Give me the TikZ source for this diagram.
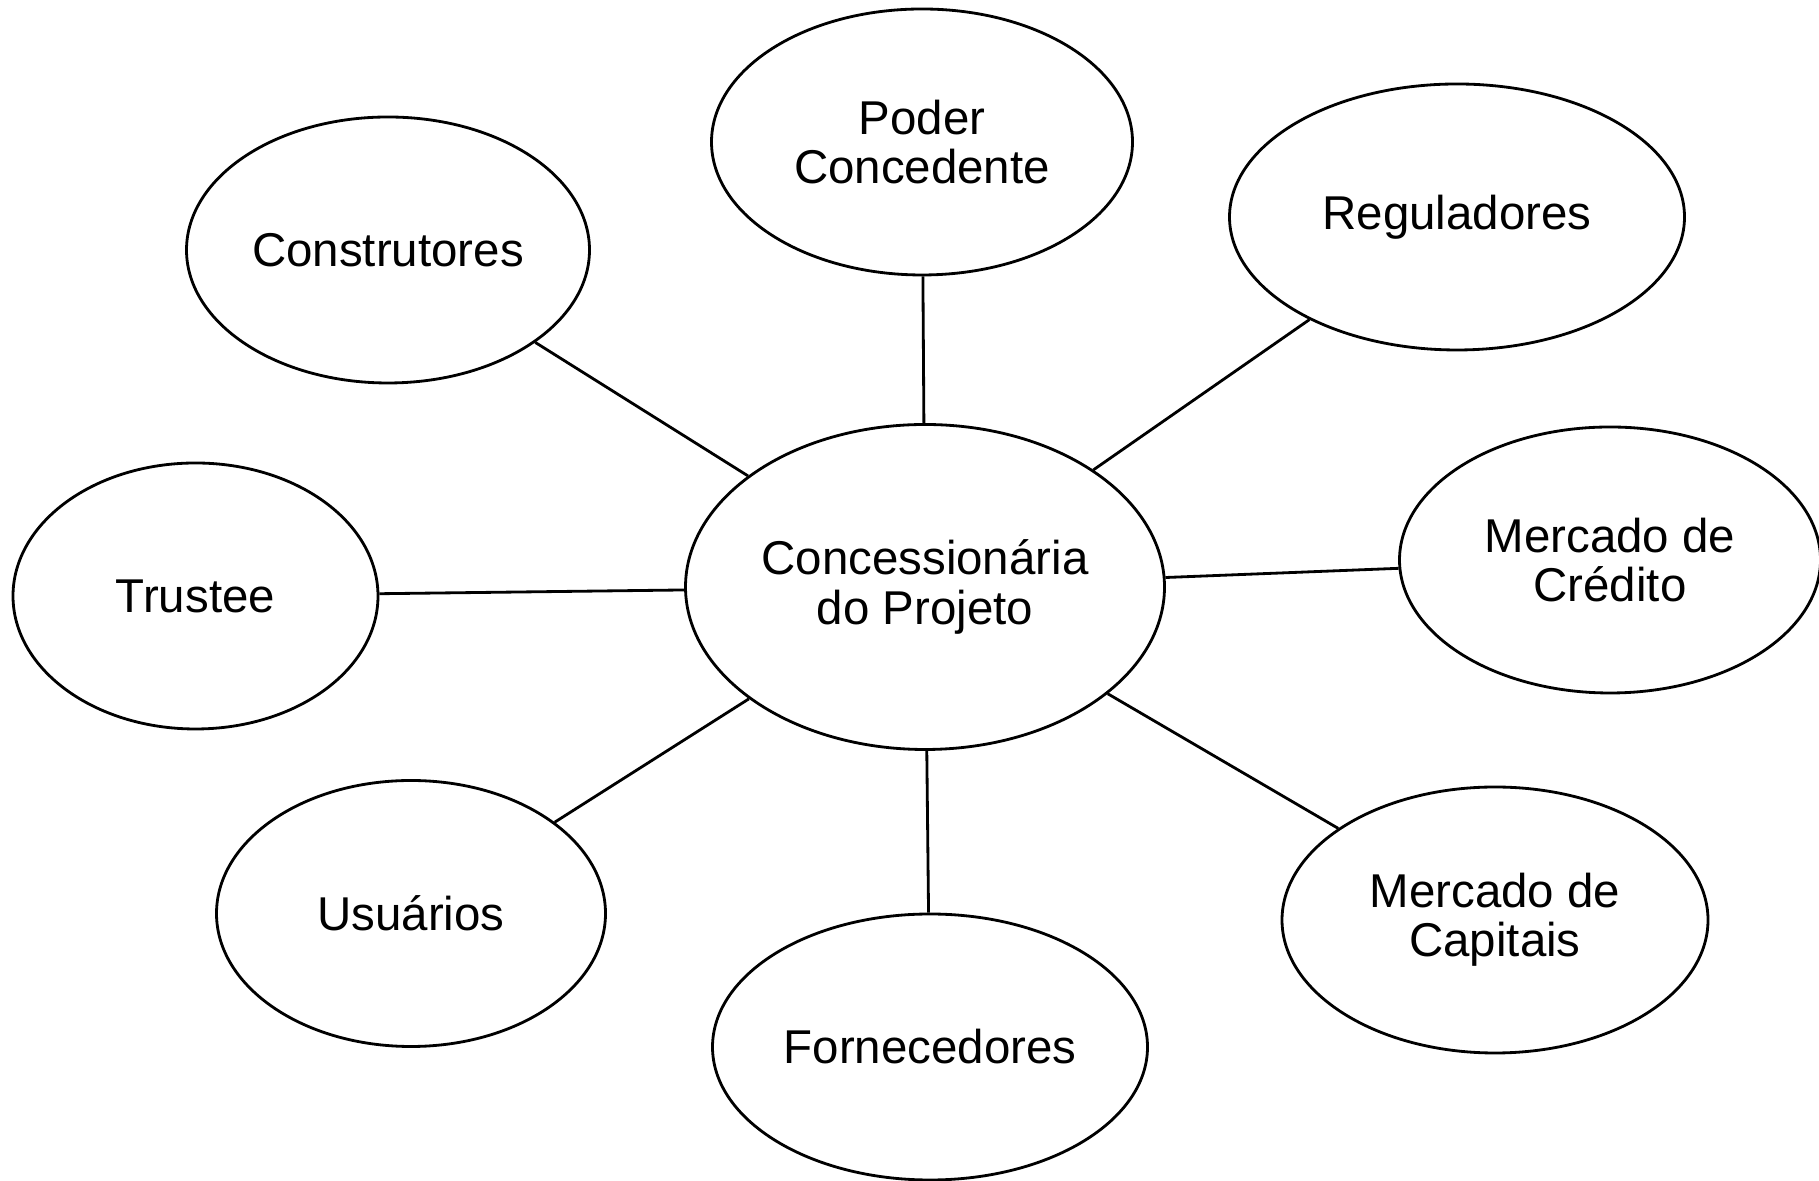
\documentclass[tikz,border=0pt]{standalone}
\usepackage{fontspec}
\setmainfont{Liberation Sans}
\usetikzlibrary{shapes.geometric}
\tikzset{
  ator/.style={draw, ellipse, line width=0.8pt, inner sep=0pt, align=center,
    minimum height=2.66cm, font=\fontsize{13.5}{14}\selectfont},
  liga/.style={line width=0.8pt}
}
\begin{document}
\begin{tikzpicture}
      \useasboundingbox (0, 0) rectangle (18.19, 11.81);
      \node[ator, minimum width=4.79cm, minimum height=3.25cm] (conc) at (9.25, 5.94) {Concessionária\\do Projeto};
      \node[ator, minimum width=4.21cm] (poder) at (9.22, 10.39) {Poder\\Concedente};
      \node[ator, minimum width=4.03cm] (constr) at (3.88, 9.31) {Construtores};
      \node[ator, minimum width=4.55cm] (regul) at (14.57, 9.64) {Reguladores};
      \node[ator, minimum width=3.65cm] (trustee) at (1.955, 5.85) {Trustee};
      \node[ator, minimum width=4.21cm] (credito) at (16.10, 6.21) {Mercado de\\Crédito};
      \node[ator, minimum width=3.89cm] (usuarios) at (4.11, 2.675) {Usuários};
      \node[ator, minimum width=4.35cm] (fornec) at (9.30, 1.34) {Fornecedores};
      \node[ator, minimum width=4.26cm] (capitais) at (14.95, 2.61) {Mercado de\\Capitais};
      \draw[liga] (conc) -- (poder);
      \draw[liga] (conc) -- (constr);
      \draw[liga] (conc) -- (regul);
      \draw[liga] (conc) -- (trustee);
      \draw[liga] (conc) -- (credito);
      \draw[liga] (conc) -- (usuarios);
      \draw[liga] (conc) -- (fornec);
      \draw[liga] (conc) -- (capitais);
\end{tikzpicture}
\end{document}
